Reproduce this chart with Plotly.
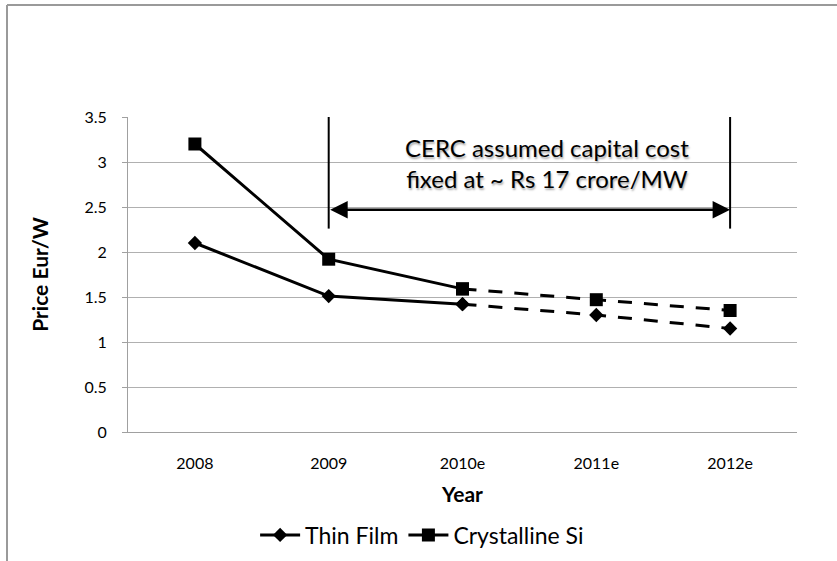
import plotly.graph_objects as go

years = ["2008", "2009", "2010e", "2011e", "2012e"]
thin_film = [2.10, 1.51, 1.42, 1.30, 1.15]
crystalline_si = [3.20, 1.92, 1.59, 1.47, 1.35]
y_ticks = [0, 0.5, 1, 1.5, 2, 2.5, 3, 3.5]
y_tick_labels = ["0", "0.5", "1", "1.5", "2", "2.5", "3", "3.5"]

annotation_text = "CERC assumed capital cost<br>fixed at ~ Rs 17 crore/MW"
span_start, span_end = "2009", "2012e"
span_arrow_level = 2.47
span_line_bottom = 2.26
n_actual = 3  # 2008..2010e actual, then estimates

FONT = "Lato, Carlito, Calibri, sans-serif"

fig = go.Figure()

series = [
    ("Thin Film", thin_film, "diamond", 11),
    ("Crystalline Si", crystalline_si, "square", 13),
]
for name, vals, sym, sz in series:
    fig.add_trace(go.Scatter(
        x=years[:n_actual], y=vals[:n_actual], name=name, mode="lines+markers",
        line=dict(color="black", width=3),
        marker=dict(symbol=sym, size=sz, color="black"),
        legendgroup=name,
    ))
    fig.add_trace(go.Scatter(
        x=years[n_actual - 1:], y=vals[n_actual - 1:], name=name, mode="lines+markers",
        line=dict(color="black", width=3, dash="14px,12px"),
        marker=dict(symbol=sym, size=sz, color="black"),
        legendgroup=name, showlegend=False,
    ))

i0 = years.index(span_start)
i1 = years.index(span_end)
for i in (i0, i1):
    fig.add_shape(type="line", xref="x", yref="y", x0=i, x1=i,
                  y0=span_line_bottom, y1=y_ticks[-1],
                  line=dict(color="black", width=2))

fig.add_annotation(
    x=i1, y=span_arrow_level, ax=i0, ay=span_arrow_level,
    xref="x", yref="y", axref="x", ayref="y",
    text="", showarrow=True, arrowhead=2, arrowside="end+start",
    arrowwidth=2.5, arrowsize=1.4, arrowcolor="black",
    startarrowhead=2, startarrowsize=1.4,
)
fig.add_annotation(
    x=(i0 + i1) / 2 + 0.13, y=2.99, xref="x", yref="y",
    text=annotation_text, showarrow=False,
    font=dict(family=FONT, size=24, color="black", shadow="1px 2px 2px #aaaaaa"),
    align="center", yanchor="middle",
)

# chart-area border (Excel style)
fig.add_shape(type="line", xref="paper", yref="paper",
              x0=(7 - 128) / 669, x1=1.2, y0=(432 - 5) / 315, y1=(432 - 5) / 315,
              line=dict(color="#9a9a9a", width=2))
fig.add_shape(type="line", xref="paper", yref="paper",
              x0=(7 - 128) / 669, x1=(7 - 128) / 669, y0=(432 - 5) / 315, y1=-0.5,
              line=dict(color="#9a9a9a", width=2))

fig.update_layout(
    width=837, height=561,
    margin=dict(l=128, r=40, t=117, b=129, autoexpand=False),
    paper_bgcolor="white", plot_bgcolor="white",
    font=dict(family=FONT, size=16, color="black"),
    showlegend=True,
    legend=dict(orientation="h", x=0.19, xanchor="left",
                yref="container", y=(561 - 535) / 561, yanchor="middle",
                font=dict(family=FONT, size=23), itemwidth=40, tracegroupgap=0,
                bgcolor="rgba(0,0,0,0)"),
    xaxis=dict(
        type="category", categoryorder="array", categoryarray=years,
        range=[-0.5, len(years) - 0.5], automargin=False,
        showline=True, linecolor="#a0a0a0", linewidth=1,
        showgrid=False, ticks="", tickfont=dict(family=FONT, size=16),
        ticklabelstandoff=17,
        title=dict(text="<b>Year</b>", font=dict(family=FONT, size=21), standoff=16),
        fixedrange=True,
    ),
    yaxis=dict(
        range=[0, 3.5], tickvals=y_ticks, ticktext=y_tick_labels, automargin=False,
        showline=True, linecolor="#a0a0a0", linewidth=1,
        showgrid=True, gridcolor="#b0b0b0", gridwidth=1,
        ticks="outside", ticklen=5, tickcolor="#a0a0a0",
        tickfont=dict(family=FONT, size=16), ticklabelstandoff=12,
        title=dict(text="<b>Price Eur/W</b>", font=dict(family=FONT, size=21), standoff=30),
        zeroline=False, fixedrange=True,
    ),
)

fig.write_html("out.html", config={"displayModeBar": False},
               post_script="document.body.style.margin='0px';")
